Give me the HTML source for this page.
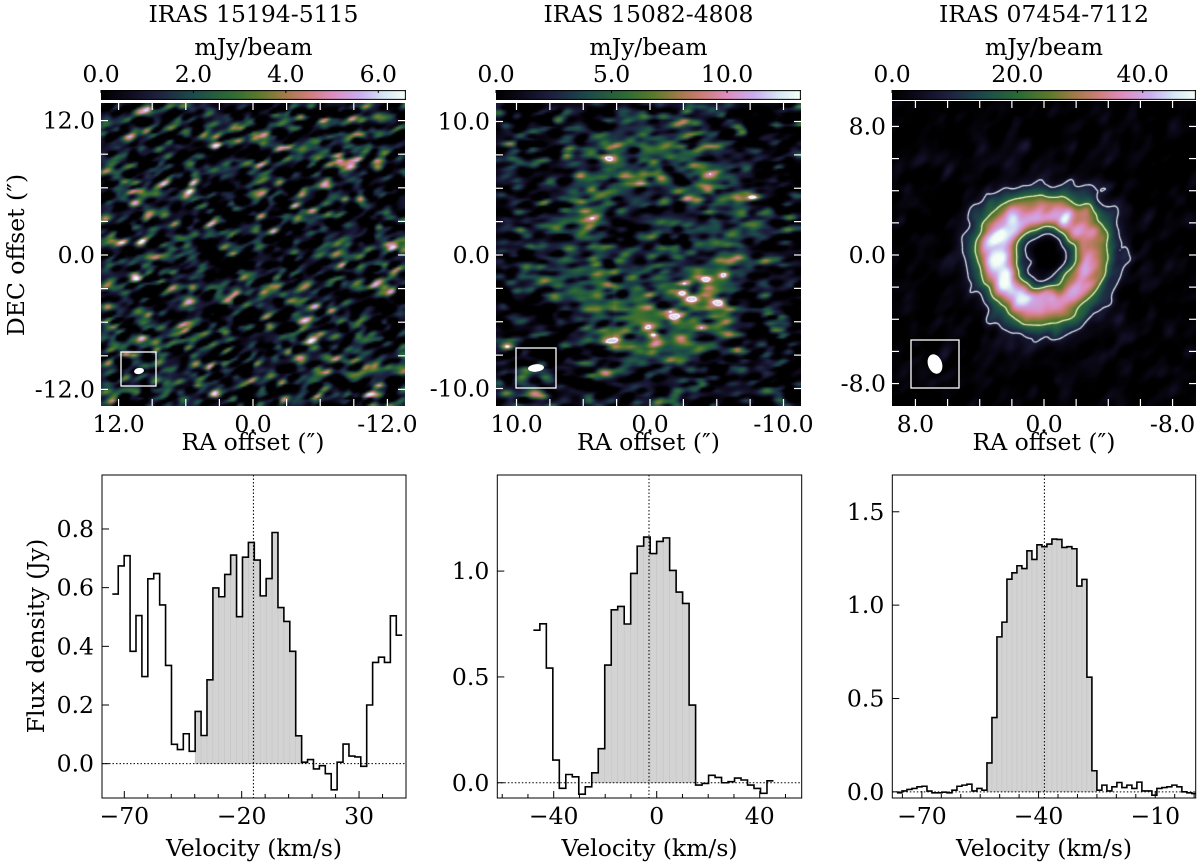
<!DOCTYPE html>
<html><head><meta charset="utf-8">
<style>
html,body{margin:0;padding:0;background:#fff;}
#wrap{position:relative;width:1200px;height:862px;overflow:hidden;font-family:"DejaVu Serif","Liberation Serif",serif;}
canvas{position:absolute;}
svg{position:absolute;left:0;top:0;}
text{font-family:"DejaVu Serif","Liberation Serif",serif;font-size:23.5px;fill:#000;}
</style></head>
<body>
<div id="wrap">
<canvas id="img1" width="304" height="303" style="left:101px;top:103px"></canvas>
<canvas id="img2" width="305" height="303" style="left:496px;top:103px"></canvas>
<canvas id="img3" width="304" height="305" style="left:892px;top:101px"></canvas>
<canvas id="cb1" width="305" height="10" style="left:101px;top:90px"></canvas>
<canvas id="cb2" width="305" height="10" style="left:496px;top:90px"></canvas>
<canvas id="cb3" width="304" height="10" style="left:892px;top:90px"></canvas>
<svg id="svg" width="1200" height="862" xmlns="http://www.w3.org/2000/svg"></svg>
</div>
<script>
// ---------------- spectra data ----------------
const spec1Start = -75.1, spec1Width = 2.52;
const spec1Values = [0.578,0.674,0.709,0.383,0.505,0.297,0.630,0.648,0.541,0.335,0.066,0.048,0.102,0.042,0.178,0.096,0.286,0.599,0.569,0.645,0.711,0.501,0.704,0.754,0.694,0.572,0.631,0.788,0.532,0.485,0.383,0.095,0.005,0.014,-0.018,-0.007,-0.034,-0.089,0.005,0.067,0.026,0.023,-0.009,0.200,0.345,0.363,0.345,0.504,0.438];
const spec1Fill = [-40, 7];
const spec1Vsys = [-15];
const spec2Start = -47.9, spec2Width = 2.52;
const spec2Values = [0.721,0.751,0.542,0.107,-0.026,0.039,0.028,-0.054,-0.019,0.047,0.161,0.556,0.817,0.833,0.750,0.989,1.118,1.161,1.083,1.140,1.157,1.003,0.901,0.847,0.367,-0.011,-0.003,0.035,0.025,0.0,0.005,0.022,0.013,-0.011,-0.027,-0.050,0.009];
const spec2Fill = [-26, 16];
const spec2Vsys = [-3];
const spec3Start = -76.4, spec3Width = 1.285;
const spec3Values = [-0.005,0.005,0.013,0.018,0.027,0.030,0.004,-0.005,-0.005,-0.002,-0.005,0.009,0.030,0.036,0.041,0.005,0.018,0.009,0.155,0.398,0.830,0.909,1.139,1.173,1.211,1.196,1.291,1.245,1.323,1.313,1.327,1.354,1.352,1.309,1.313,1.302,1.102,1.138,0.614,0.113,0.009,0.036,0.005,0.027,0.050,0.023,0.036,0.018,0.052,0.005,0.005,-0.018,0.018,0.023,0.027,0.036,0.027,0.0,-0.005,-0.009];
const spec3Fill = [-53.3, -25];
const spec3Vsys = [-38.5];
const xTicks1 = [-70,-20,30], xTicks2 = [-40,0,40], xTicks3 = [-70,-40,-10];
const yTicks1 = [0.0,0.2,0.4,0.6,0.8], yTicks2 = [0.0,0.5,1.0], yTicks3 = [0.0,0.5,1.0,1.5];
const cbTicks1 = [0,2,4,6], cbTicks2 = [0,5,10], cbTicks3 = [0,20,40];
const mapTicks1 = [12,0,-12], mapTicks2 = [10,0,-10], mapTicks3 = [8,0,-8];

const NS = "http://www.w3.org/2000/svg";
const svg = document.getElementById('svg');
function el(tag, attrs, parent){ const e=document.createElementNS(NS,tag); for(const k in attrs) e.setAttribute(k,attrs[k]); (parent||svg).appendChild(e); return e; }
function txt(s,x,y,anchor,parent,rot){ const t=el('text',{x:x,y:y,'text-anchor':anchor||'middle'},parent); if(rot) t.setAttribute('transform',`rotate(-90 ${x} ${y})`); t.textContent=s; return t; }

function spectrum(id, box, xr, yr, start, width, values, fill, vsys, xt, minorStep, yt){
  const g = el('g',{});  
  const xs = v => box.x0 + (v - xr[0])/(xr[1]-xr[0])*(box.x1-box.x0);
  const ys = f => box.y1 - (f - yr[0])/(yr[1]-yr[0])*(box.y1-box.y0);
  const cp = el('clipPath',{id:'clip'+id},g); el('rect',{x:box.x0,y:box.y0,width:box.x1-box.x0,height:box.y1-box.y0},cp);
  const inner = el('g',{'clip-path':`url(#clip${id})`},g);
  values.forEach((val,i)=>{
    const a = start + i*width, b = a + width, c = (a+b)/2;
    if (c >= fill[0] && c <= fill[1]) {
      const r = el('rect',{x:xs(a),y:Math.min(ys(val),ys(0)),width:xs(b)-xs(a),height:Math.abs(ys(val)-ys(0)),fill:'#d3d3d3',stroke:'#c4c4c4','stroke-width':0.5},inner);
      
      
    }
  });
  let d = '';
  values.forEach((val,i)=>{
    const a = start + i*width, b = a + width;
    d += (i===0?`M${xs(a)},${ys(val)}`:`V${ys(val)}`) + `H${xs(b)}`;
  });
  const line = el('path',{d:d,fill:'none',stroke:'#000','stroke-width':1.6},inner);
  
  
  el('line',{x1:box.x0,x2:box.x1,y1:ys(0),y2:ys(0),stroke:'#000','stroke-width':1,'stroke-dasharray':'1.5,2'},inner);
  vsys.forEach(v=>el('line',{x1:xs(v),x2:xs(v),y1:box.y0,y2:box.y1,stroke:'#000','stroke-width':1,'stroke-dasharray':'1.5,2'},inner));
  el('rect',{x:box.x0,y:box.y0,width:box.x1-box.x0,height:box.y1-box.y0,fill:'none',stroke:'#000','stroke-width':1},g);
  for (let v=Math.ceil(xr[0]/minorStep)*minorStep; v<=xr[1]; v+=minorStep) {
    const maj = xt.indexOf(Math.round(v))>=0;
    el('line',{x1:xs(v),x2:xs(v),y1:box.y1,y2:box.y1-(maj?7:4),stroke:'#000','stroke-width':1},g);
  }
  xt.forEach(v=>{ txt(String(v).replace('-','\u2212'), xs(v), 824, 'middle', g); });
  yt.forEach(f=>{ el('line',{x1:box.x0,x2:box.x0+7,y1:ys(f),y2:ys(f),stroke:'#000','stroke-width':1},g); txt(f.toFixed(1), box.x0-8, ys(f)+8, 'end', g); });
  const xl = txt('Velocity (km/s)', (box.x0+box.x1)/2, 856, 'middle', g);
   
}
spectrum('1',{x0:102,x1:406,y0:475,y1:798},[-79.5,50],[-0.117,0.984],spec1Start,spec1Width,spec1Values,spec1Fill,spec1Vsys,xTicks1,10,yTicks1);
spectrum('2',{x0:497.3,x1:801.7,y0:475,y1:798},[-61.9,56.3],[-0.072,1.454],spec2Start,spec2Width,spec2Values,spec2Fill,spec2Vsys,xTicks2,10,yTicks2);
spectrum('3',{x0:892.3,x1:1195.7,y0:475,y1:798},[-77.6,0.4],[-0.033,1.697],spec3Start,spec3Width,spec3Values,spec3Fill,spec3Vsys,xTicks3,5,yTicks3);
const fl = txt('Flux density (Jy)', 44, 636, 'middle', svg, true);
 

// ---------------- colormap ----------------
const stops = [[0,[0,0,0]],[0.08,[13,10,26]],[0.18,[29,31,63]],[0.3,[28,75,75]],[0.42,[44,106,53]],[0.52,[93,122,44]],[0.6,[160,122,72]],[0.68,[207,125,122]],[0.76,[221,142,192]],[0.85,[201,174,240]],[0.93,[214,232,244]],[1,[245,255,247]]];
function cmap(t){ t=Math.max(0,Math.min(1,t)); for(let i=1;i<stops.length;i++){ if(t<=stops[i][0]){ const a=stops[i-1],b=stops[i],f=(t-a[0])/(b[0]-a[0]); return [0,1,2].map(k=>Math.round(a[1][k]+(b[1][k]-a[1][k])*f)); } } return stops[stops.length-1][1]; }
['cb1','cb2','cb3'].forEach(id=>{ const c=document.getElementById(id),x=c.getContext('2d'); for(let i=0;i<c.width;i++){ const col=cmap(i/(c.width-1)); x.fillStyle='rgb('+col.join(',')+')'; x.fillRect(i,0,1,c.height);} x.strokeStyle='#000'; x.lineWidth=1; x.strokeRect(0.5,0.5,c.width-1,c.height-1); });

// ---------------- maps (texture) ----------------
function rng(seed){ return function(){ seed|=0; seed=seed+0x6D2B79F5|0; let t=Math.imul(seed^seed>>>15,1|seed); t=t+Math.imul(t^t>>>7,61|t)^t; return ((t^t>>>14)>>>0)/4294967296; }; }
function noise(n,count,sx,sy,ang,seed){
  const r=rng(seed), f=new Float32Array(n*n), ca=Math.cos(ang), sa=Math.sin(ang), R=Math.ceil(3*Math.max(sx,sy));
  for(let k=0;k<count;k++){ const cx=r()*n, cy=r()*n, a=(r()+r()+r()-1.5)*2;
    for(let j=Math.max(0,Math.floor(cy-R));j<Math.min(n,cy+R);j++) for(let i=Math.max(0,Math.floor(cx-R));i<Math.min(n,cx+R);i++){
      const dx=i-cx, dy=j-cy, u=dx*ca+dy*sa, v=-dx*sa+dy*ca; f[j*n+i]+=a*Math.exp(-0.5*(u*u/(sx*sx)+v*v/(sy*sy))); } }
  let s=0; for(let i=0;i<f.length;i++) s+=f[i]*f[i]; s=Math.sqrt(s/f.length); for(let i=0;i<f.length;i++) f[i]/=s; return f;
}
function render(id,n,tfield,levels){
  const c=document.getElementById(id), ctx=c.getContext('2d'), off=document.createElement('canvas'); off.width=n; off.height=n;
  const ox=off.getContext('2d'), im=ox.createImageData(n,n);
  for(let i=0;i<n*n;i++){ const col=cmap(tfield[i]); im.data[i*4]=col[0]; im.data[i*4+1]=col[1]; im.data[i*4+2]=col[2]; im.data[i*4+3]=255; }
  ox.putImageData(im,0,0); ctx.imageSmoothingEnabled=true; ctx.drawImage(off,0,0,c.width,c.height);
  const sx=c.width/n, sy=c.height/n;
  (levels||[]).forEach(([lev,color])=>{
    ctx.strokeStyle=color; ctx.lineWidth=1.3; ctx.beginPath();
    for(let j=0;j<n-1;j++) for(let i=0;i<n-1;i++){
      const v=[tfield[j*n+i],tfield[j*n+i+1],tfield[(j+1)*n+i+1],tfield[(j+1)*n+i]], p=[[i,j],[i+1,j],[i+1,j+1],[i,j+1]], pts=[];
      for(let e=0;e<4;e++){ const a=v[e],b=v[(e+1)%4]; if((a-lev)*(b-lev)<0){ const t=(lev-a)/(b-a); pts.push([(p[e][0]+(p[(e+1)%4][0]-p[e][0])*t+0.5)*sx,(p[e][1]+(p[(e+1)%4][1]-p[e][1])*t+0.5)*sy]); } }
      for(let q=0;q+1<pts.length;q+=2){ ctx.moveTo(pts[q][0],pts[q][1]); ctx.lineTo(pts[q+1][0],pts[q+1][1]); }
    }
    ctx.stroke();
  });
}
// map 1
(function(){ const n=140, z=noise(n,5200,0.9,1.9,1.2,11), t=new Float32Array(n*n);
  for(let i=0;i<n*n;i++) t[i]=(z[i]+0.6)/4.4; render('img1',n,t); })();
// map 2
(function(){ const n=130, z=noise(n,3800,0.9,2.0,1.45,23), t=new Float32Array(n*n);
  for(let j=0;j<n;j++) for(let i=0;i<n;i++){ const ax=(n/2-i)/n*22.8+0.3, ay=(n/2-j)/n*22.7-1.0;
    const re=Math.sqrt((ax/6.0)*(ax/6.0)+(ay/7.5)*(ay/7.5)); const q=(re-0.9)/0.4; let env=Math.exp(-(q*q));
    if(ay<-2) env*=1.35; if(ax>3) env*=0.85;
    t[j*n+i]=(z[j*n+i]*0.8+1.2*env+0.3*Math.exp(-re*re)+0.3)/4.8; }
  render('img2',n,t,[[0.79,'#fff']]); })();
// map 3
(function(){ const n=130, z=noise(n,2600,1.4,2.4,0.7,37), t=new Float32Array(n*n);
  for(let j=0;j<n;j++) for(let i=0;i<n;i++){ const ax=(n/2-i)/n*18.9-0.1, ay=(n/2-j)/n*19.0+0.2;
    const r=Math.sqrt(ax*ax+ay*ay), th=Math.atan2(ay,ax);
    const w = r<2.7 ? 1.0 : 1.7 + 0.2*Math.sin(3*th);
    const q=(r-2.7)/w;
    let v=Math.exp(-(q*q))*(0.84+0.08*Math.cos(th)+0.03*Math.sin(4*th));
    v+= 0.015*z[j*n+i]*(1+3*v);
    t[j*n+i]=Math.max(0,v)+0.02*Math.max(0,z[j*n+i]+0.5); }
  render('img3',n,t,[[0.16,'#dfe8f0'],[0.45,'#f4eec0']]); })();

// ---------------- map axes (svg) ----------------
function mapAxes(id,box,scale,cx,cy,minor,labels,cb,cbTicks,cbMax,title,beam){
  const g=el('g',{});  
  const X=a=>cx-a*scale, Y=a=>cy-a*scale;
  const lim=Math.floor(((box.x1-box.x0)/2/scale)/minor)*minor;
  for(let a=-lim;a<=lim+1e-6;a+=minor){
    el('line',{x1:X(a),x2:X(a),y1:box.y1,y2:box.y1-7,stroke:'#fff','stroke-width':1.2},g);
    el('line',{x1:X(a),x2:X(a),y1:box.y0,y2:box.y0+7,stroke:'#fff','stroke-width':1.2},g);
    el('line',{y1:Y(a),y2:Y(a),x1:box.x0,x2:box.x0+7,stroke:'#fff','stroke-width':1.2},g);
    el('line',{y1:Y(a),y2:Y(a),x1:box.x1,x2:box.x1-7,stroke:'#fff','stroke-width':1.2},g);
  }
  labels.forEach(a=>{ const s=a.toFixed(1); txt(s,X(a),432,'middle',g); txt(s,box.x0-6,Y(a)+8,'end',g); });
  const bx=el('rect',{x:beam.bx,y:beam.by,width:beam.bw,height:beam.bh,fill:'none',stroke:'#fff','stroke-width':1.3},g);
   
  el('ellipse',{cx:beam.cx,cy:beam.cy,rx:beam.rx,ry:beam.ry,fill:'#fff',transform:`rotate(${beam.rot} ${beam.cx} ${beam.cy})`},g);
  const ra=txt('RA offset (\u2033)',(box.x0+box.x1)/2,450,'middle',g);
   
  cbTicks.forEach(v=>{ const x=cb.x0+v/cbMax*(cb.x1-cb.x0); el('line',{x1:x,x2:x,y1:90,y2:93,stroke:'#000','stroke-width':1},g); txt(v.toFixed(1),x,82,'middle',g); });
  const u=txt('mJy/beam',(cb.x0+cb.x1)/2,55,'middle',g);  
  const tt=txt(title,(cb.x0+cb.x1)/2,22,'middle',g);  
}
mapAxes('1',{x0:101,x1:405,y0:103,y1:406},11.2,253,255,3,mapTicks1,{x0:101,x1:406},cbTicks1,6.6,'IRAS 15194-5115',{bx:121,by:352,bw:35,bh:34,cx:139,cy:371,rx:5,ry:3,rot:-10});
mapAxes('2',{x0:496,x1:801,y0:103,y1:406},13.35,650,255,2.5,mapTicks2,{x0:496,x1:801},cbTicks2,13.2,'IRAS 15082-4808',{bx:516,by:348,bw:40,bh:40,cx:536,cy:368,rx:8,ry:3.8,rot:-5});
mapAxes('3',{x0:892,x1:1196,y0:101,y1:406},16.07,1044,255,2,mapTicks3,{x0:892,x1:1196},cbTicks3,48.5,'IRAS 07454-7112',{bx:911,by:340,bw:48,bh:48,cx:935,cy:364,rx:7,ry:10,rot:-20});
const dec=txt('DEC offset (\u2033)',24,255,'middle',svg,true);
 
</script>
</body></html>
